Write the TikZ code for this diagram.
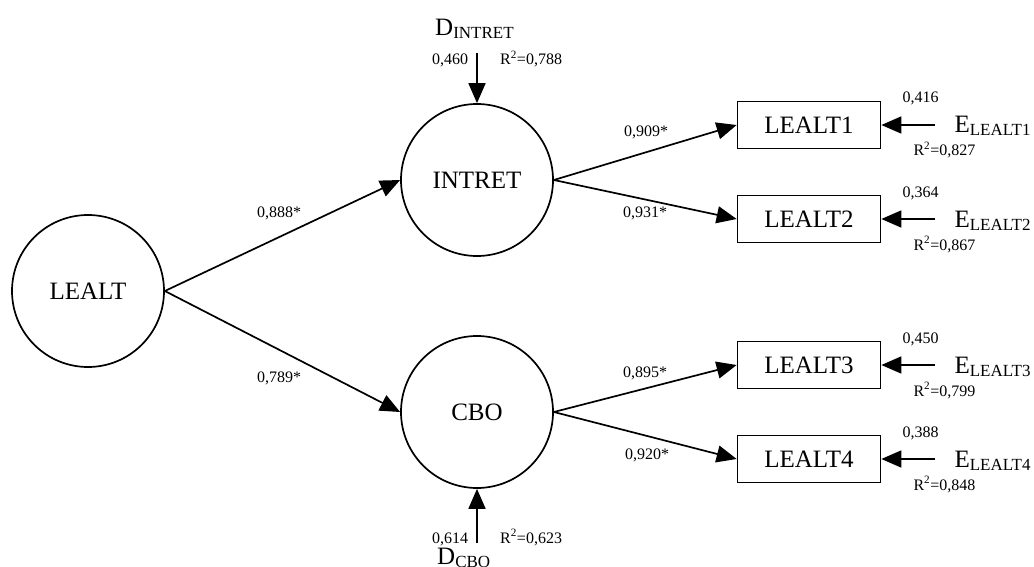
\documentclass[tikz,border=0pt]{standalone}
\usepackage{fontspec}
\setmainfont{Liberation Serif}
\usetikzlibrary{arrows.meta}
\newcommand{\bigtxt}{\fontsize{25}{28}\selectfont}
\newcommand{\subtxt}[1]{\raisebox{-3pt}{\fontsize{17}{19}\selectfont #1}}
\begin{document}
\begin{tikzpicture}[x=1pt,y=-1pt,
  lat/.style={draw, circle, line width=1.7pt, minimum size=152pt, inner sep=0pt, font=\bigtxt},
  obs/.style={draw, rectangle, line width=1.7pt, minimum width=143pt, minimum height=47pt, inner sep=0pt, font=\bigtxt},
  link/.style={line width=1.7pt, -{Triangle[length=20pt,width=17pt]}},
  coef/.style={font=\fontsize{16}{18}\selectfont, inner sep=0pt, anchor=base west},
  err/.style={font=\bigtxt, inner sep=0pt, anchor=base west},
]
\useasboundingbox (0,0) rectangle (1034,567);

% latent variables
\node[lat] (lealt)  at (88,291)  {LEALT};
\node[lat] (intret) at (477,180) {INTRET};
\node[lat] (cbo)    at (477,412) {CBO};

% indicators
\node[obs] (l1) at (809,125) {LEALT1};
\node[obs] (l2) at (809,219) {LEALT2};
\node[obs] (l3) at (809,365) {LEALT3};
\node[obs] (l4) at (809,459) {LEALT4};

% structural paths
\draw[link] (lealt.east) -- (intret.west);
\draw[link] (lealt.east) -- (cbo.west);
\draw[link] (intret.east) -- (l1.west);
\draw[link] (intret.east) -- (l2.west);
\draw[link] (cbo.east) -- (l3.west);
\draw[link] (cbo.east) -- (l4.west);

\node[coef] (c888) at (257,217) {0,888*};
\node[coef] (c789) at (257,382) {0,789*};
\node[coef] (c909) at (624,137) {0,909*};
\node[coef] (c931) at (623,217) {0,931*};
\node[coef] (c895) at (623,377) {0,895*};
\node[coef] (c920) at (625,459) {0,920*};

% disturbances
\node[err] (dint) at (435,36) {D\subtxt{INTRET}};
\coordinate (dinttail) at (477,53);
\draw[link] (dinttail) -- (intret.north);
\node[coef] (dint-v)  at (432,65) {0,460};
\node[coef] (dint-r2) at (500,65) {R\textsuperscript{2}=0,788};

\node[err] (dcbo) at (437,564) {D\subtxt{CBO}};
\coordinate (dcbotail) at (477,543);
\draw[link] (dcbotail) -- (cbo.south);
\node[coef] (dcbo-v)  at (432,543) {0,614};
\node[coef] (dcbo-r2) at (500,543) {R\textsuperscript{2}=0,623};

% measurement errors
\foreach \i/\v/\r in {1/416/827, 2/364/867, 3/450/799, 4/388/848} {
  \coordinate (et\i) at ([xshift=54pt]l\i.east);
  \draw[link] (et\i) -- (l\i.east);
  \node[err] (e\i) at ([xshift=73pt,yshift=-8pt]l\i.east) {E\subtxt{LEALT\i}};
  \node[coef] (ev\i) at ([xshift=21pt,yshift=22pt]l\i.east) {0,\v};
  \node[coef] (er\i) at ([xshift=32pt,yshift=-31pt]l\i.east) {R\textsuperscript{2}=0,\r};
}
\end{tikzpicture}
\end{document}
